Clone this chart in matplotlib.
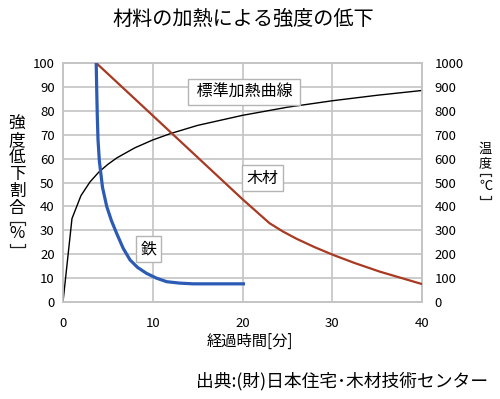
import matplotlib
matplotlib.use('Agg')
import matplotlib.pyplot as plt
from matplotlib.lines import Line2D

plt.rcParams['font.family'] = ['Noto Sans CJK JP', 'DejaVu Sans']

# 標準加熱曲線 (temperature, right axis)
heat_t = [0, 1, 2, 3, 4, 5, 6, 8, 10, 12, 15, 20, 25, 30, 35, 40]
heat_temp = [0, 349, 445, 502, 544, 576, 603, 645, 678, 705, 739, 781, 815, 842, 865, 885]

# 木材 (strength ratio, left axis)
wood_t = [3.7, 8, 12, 16, 20, 23, 24.5, 26, 28, 30.1, 32.5, 35.3, 40]
wood_val = [100, 85, 71, 57, 43, 33, 29.5, 26.5, 23, 19.7, 16.3, 12.7, 7.5]

# 鉄
iron_t = [3.7, 3.75, 3.82, 3.9, 4.05, 4.4, 4.87, 5.4, 5.98, 6.7, 7.47, 8.3, 9.3, 10.4, 11.55, 13, 14.5, 17, 20.1]
iron_val = [100, 90, 78, 68, 59, 48, 40, 34, 28.7, 22.5, 17.6, 14.5, 12, 10, 8.5, 7.9, 7.6, 7.6, 7.6]

W, H = 500, 399
grid_c = '#c4c4c4'

fig = plt.figure(figsize=(W / 100, H / 100), dpi=100)
ax = fig.add_axes([63 / W, 1 - 302 / H, 359 / W, 239 / H])
ax2 = ax.twinx()

ax.set_xlim(0, 40)
ax.set_ylim(0, 100)
ax2.set_ylim(0, 1000)
ax.set_xticks([0, 10, 20, 30, 40])
ax.set_yticks(range(0, 101, 10))
ax2.set_yticks(range(0, 1001, 100))
ax.grid(True, color=grid_c, lw=1.2)
ax.set_axisbelow(True)
for a in (ax, ax2):
    for s in a.spines.values():
        s.set_color(grid_c)
        s.set_linewidth(1.2)
ax.tick_params(axis='both', length=0, labelsize=9.5)
ax.tick_params(axis='y', pad=6)
ax.tick_params(axis='x', pad=11)
ax2.tick_params(axis='y', length=0, labelsize=9.5, pad=9)

ax2.plot(heat_t, heat_temp, color='black', lw=1.0, zorder=2)
ax2.plot(wood_t, [v * 10 for v in wood_val], color='#a83a22', lw=1.6, zorder=3)
ax2.plot(iron_t, [v * 10 for v in iron_val], color='#2b5bb5', lw=2.3, zorder=4)

box = dict(boxstyle='square,pad=0.28', fc='white', ec='#b4b4b4', lw=1.0)
ax2.text(20.2, 877, ' 標準加熱曲線 ', fontsize=11.5, ha='center', va='center', bbox=box, zorder=5)
ax2.text(22.2, 518, '木材', fontsize=11.5, ha='center', va='center', bbox=box, zorder=5)
ax2.text(9.5, 221, '鉄', fontsize=11.5, ha='center', va='center', bbox=box, zorder=5)

fig.text(243.5 / W, 1 - 19.5 / H, '材料の加熱による強度の低下', fontsize=14.5, ha='center', va='center')


def px(x, y):
    return x / W, 1 - y / H


def bracket(x0, x1, y_line, y_leg):
    # vertical-writing bracket drawn as a thin polyline
    xs = [x0, x0, x1, x1]
    ys = [y_leg, y_line, y_line, y_leg]
    fig.add_artist(Line2D([x / W for x in xs], [1 - y / H for y in ys],
                          transform=fig.transFigure, color='#222222', lw=0.9))


# left label: 強度低下割合[%]
for ch, y in [('強', 124), ('度', 141), ('低', 157.5), ('下', 174),
              ('割', 191), ('合', 208), ('%', 234)]:
    fig.text(*px(17, y), ch, fontsize=12, ha='center', va='center')
bracket(9.5, 24.5, 221.5, 224.8)
bracket(9.5, 24.5, 247, 243.5)

# right label: 温度[℃]
for ch, y in [('温', 149), ('度', 164), ('℃', 186)]:
    fig.text(*px(485.5, y), ch, fontsize=9.5, ha='center', va='center')
bracket(480, 491, 173.5, 176.5)
bracket(480, 491, 199.3, 196)

fig.text(250 / W, 1 - 341 / H, '経過時間[分]', fontsize=11, ha='center', va='center')
fig.text(488 / W, 1 - 381 / H, '出典:(財)日本住宅･木材技術センター', fontsize=12.8, ha='right', va='center')

fig.savefig('out.png', dpi=100)
